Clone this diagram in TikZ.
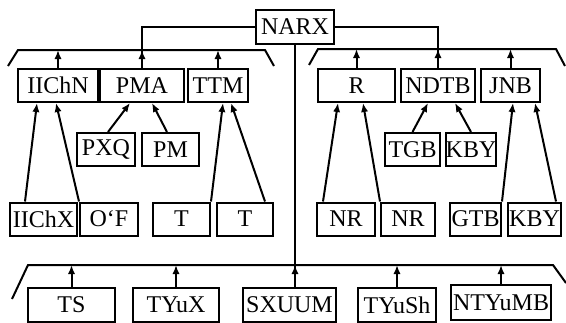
\documentclass[tikz,border=0pt]{standalone}
\usepackage{fontspec}
\setmainfont{Liberation Serif}
\usetikzlibrary{arrows.meta}
\tikzset{
  box/.style={draw, line width=1pt, minimum width=#1*0.5pt, minimum height=16.5pt, inner sep=0pt, font=\fontsize{12}{14}\selectfont},
  up/.style={-{Latex[length=4.5pt,width=3.6pt]}, line width=1pt},
  bar/.style={line width=1pt}
}
\begin{document}
\begin{tikzpicture}[x=0.5pt,y=-0.5pt]
\useasboundingbox (0,0) rectangle (566,322);
\clip (0,0) rectangle (566,322);
% brackets
\coordinate (tla) at (18,50); \coordinate (tlb) at (265,50);
\coordinate (tra) at (318,49); \coordinate (trb) at (556,49);
\coordinate (bla) at (28,265); \coordinate (blb) at (553,265);
\draw[bar] (8,66) -- (tla) -- (tlb) -- (274,66);
\draw[bar] (309,65) -- (tra) -- (trb) -- (565,66);
\draw[bar] (12,299) -- (bla) -- (blb) -- (566,283);
% top
\node[box=78, minimum height=17pt] (narx) at (295,27) {NARX};
% first row
\node[box=80] (iichn) at (58,85.5) {IIChN};
\node[box=84] (pma) at (142,85.5) {PMA};
\node[box=60] (ttm) at (218,85.5) {TTM};
\node[box=77] (r) at (356.5,85.5) {R};
\node[box=74] (ndtb) at (438,85.5) {NDTB};
\node[box=59] (jnb) at (510.5,85.5) {JNB};
% second row
\node[box=58] (pxq) at (106,149.5) {PXQ};
\node[box=57] (pm) at (170.5,149.5) {PM};
\node[box=55] (tgb) at (412.5,149.5) {TGB};
\node[box=50] (kbya) at (471,149.5) {KBY};
% third row
\node[box=67] (iichx) at (43.5,219) {IIChX};
\node[box=58] (of) at (109,219) {O‘F};
\node[box=57] (ta) at (181.5,219) {T};
\node[box=56] (tb) at (245,219) {T};
\node[box=58] (nra) at (346,219) {NR};
\node[box=54] (nrb) at (408,219) {NR};
\node[box=51] (gtb) at (475.5,219) {GTB};
\node[box=53] (kbyb) at (534.5,219) {KBY};
% bottom row
\node[box=87, minimum height=17pt] (ts) at (71.5,305) {TS};
\node[box=86, minimum height=17pt] (tyux) at (176,305) {TYuX};
\node[box=93, minimum height=17pt] (sxuum) at (289.5,305) {SXUUM};
\node[box=78, minimum height=17pt] (tyush) at (397,305) {TYuSh};
\node[box=100, minimum height=17.5pt] (ntyumb) at (501,302.5) {NTYuMB};
% from NARX
\draw[bar] (narx.west) -| (pma.north);
\draw[bar] (narx.east) -| (ndtb.north);
\draw[bar] (narx.south) -- (narx.south |- sxuum.north);
% up to the brackets
\foreach \b in {iichn,pma,ttm} \draw[up] (\b.north) -- (\b.north |- tla);
\foreach \b in {r,ndtb,jnb} \draw[up] (\b.north) -- (\b.north |- tra);
\foreach \b in {ts,tyux,tyush,ntyumb} \draw[up] (\b.north) -- (\b.north |- bla);
\draw[up] (narx.south |- sxuum.north) -- (narx.south |- bla);
% into the first row
\draw[up] ([xshift=-9.25pt]iichx.north) -- ([xshift=-10.5pt]iichn.south);
\draw[up] (of.north west) -- ([xshift=-1pt]iichn.south);
\draw[up] ([xshift=1pt]pxq.north) -- ([xshift=-6pt]pma.south);
\draw[up] ([xshift=-1.75pt]pm.north) -- ([xshift=5pt]pma.south);
\draw[up] (ta.north east) -- ([xshift=2.5pt]ttm.south);
\draw[up] ([xshift=10pt]tb.north) -- ([xshift=6.5pt]ttm.south);
\draw[up] ([xshift=-11.5pt]nra.north) -- ([xshift=-9.25pt]r.south);
\draw[up] (nrb.north west) -- ([xshift=3.25pt]r.south);
\draw[up] (tgb.north) -- ([xshift=-5pt]ndtb.south);
\draw[up] (kbya.north) -- ([xshift=8.5pt]ndtb.south);
\draw[up] (gtb.north east) -- ([xshift=1.25pt]jnb.south);
\draw[up] ([xshift=10.75pt]kbyb.north) -- ([xshift=12.25pt]jnb.south);
\end{tikzpicture}
\end{document}
